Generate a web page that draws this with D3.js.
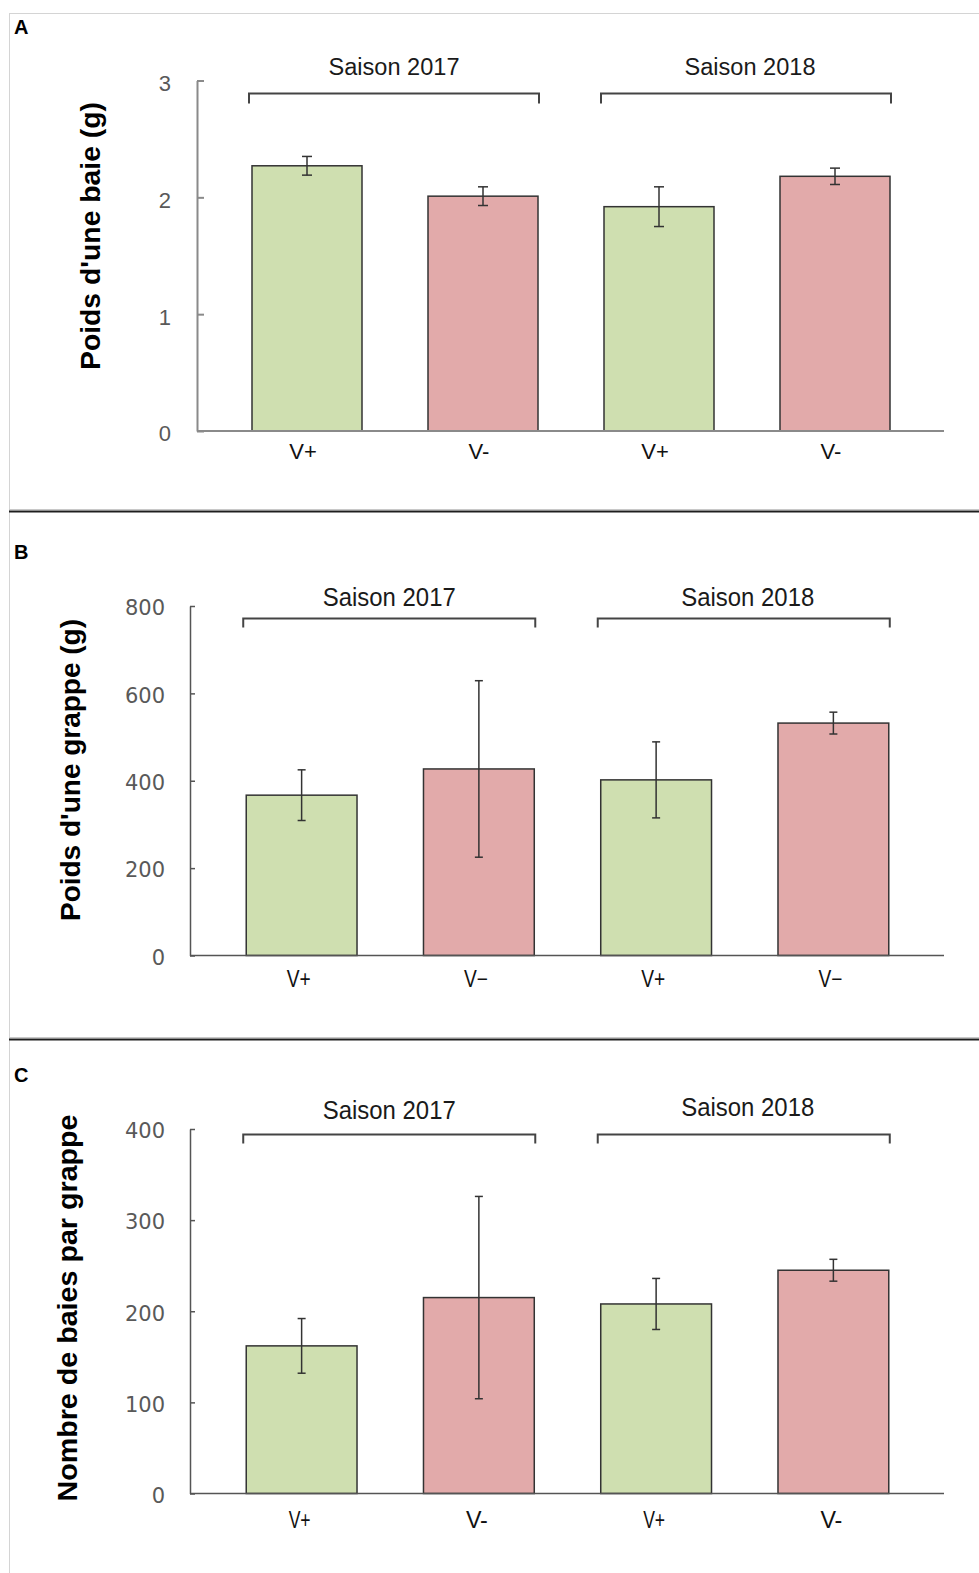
<!DOCTYPE html>
<html><head><meta charset="utf-8">
<script src="https://cdn.jsdelivr.net/npm/d3@7"></script>
<style>body{margin:0;background:#fff}</style>
</head><body>
<svg id="c" width="979" height="1573" xmlns="http://www.w3.org/2000/svg"></svg>
<script>
// ---------- DATA ----------
const categoriesA = ["V+", "V-", "V+", "V-"];
const categoriesB = ["V+", "V\u2212", "V+", "V\u2212"];
const categoriesC = ["V+", "V-", "V+", "V-"];
const treatments = ["plus", "minus", "plus", "minus"];
const seasons = ["Saison 2017", "Saison 2018"];
const seasonGroups = [[0, 1], [2, 3]];
const berryWeight = [2.27, 2.01, 1.92, 2.18];
const berryWeightErr = [0.08, 0.08, 0.17, 0.07];
const clusterWeight = [367, 427, 402, 532];
const clusterWeightErr = [58, 202, 87, 25];
const berriesPerCluster = [162, 215, 208, 245];
const berriesPerClusterErr = [30, 111, 28, 12];
const ticksA = [0, 1, 2, 3];
const ticksB = [0, 200, 400, 600, 800];
const ticksC = [0, 100, 200, 300, 400];
const titles = ["Poids d'une baie (g)", "Poids d'une grappe (g)", "Nombre de baies par grappe"];
const letters = ["A", "B", "C"];

// ---------- STYLE / LAYOUT ----------
const colors = {plus: "#cfdfb0", minus: "#e2aaaa"};
const svg = d3.select("#c");

// frames
svg.append("line").attr("x1", 9).attr("x2", 979).attr("y1", 13.5).attr("y2", 13.5).attr("stroke", "#d4d4d4").attr("stroke-width", 1);
svg.append("line").attr("x1", 9.5).attr("x2", 9.5).attr("y1", 13).attr("y2", 1573).attr("stroke", "#d4d4d4").attr("stroke-width", 1);
[511.5, 1039.5].forEach(yy => {
  svg.append("line").attr("x1", 9).attr("x2", 979).attr("y1", yy - 2).attr("y2", yy - 2).attr("stroke", "#c8c8c8").attr("stroke-width", 1);
  svg.append("line").attr("x1", 9).attr("x2", 979).attr("y1", yy).attr("y2", yy).attr("stroke", "#1e1e1e").attr("stroke-width", 2);
});

const panels = [
  {letter: letters[0], letterY: 34, cats: categoriesA, values: berryWeight, errs: berryWeightErr, ticks: ticksA, max: 3,
   y0: 431, yTop: 80.5, axisX: 197, axisEnd: 944, xRange: [219, 923], tickLen: 7, tickPad: 26,
   tickFont: "'Liberation Sans', Arial, sans-serif", tickSize: 22, tickDy: "0.45em",
   axisColor: "#8a8a8a", axisW: 2,
   title: titles[0], titleX: 100, titleCY: 236, titleLen: 268,
   bracketY: 93.5, bracketDrop: 10, seasonY: 75, seasonSize: 23, seasonLen: 131,
   xlabY: 459, xlabSize: 22, xlabLen: null, xlabShift: -4, capW: 10},
  {letter: letters[1], letterY: 559, cats: categoriesB, values: clusterWeight, errs: clusterWeightErr, ticks: ticksB, max: 800,
   y0: 955.5, yTop: 606, axisX: 190, axisEnd: 944, xRange: [213, 922], tickLen: 5, tickPad: 25,
   tickFont: "'DejaVu Sans', Verdana, sans-serif", tickSize: 21, tickDy: "0.42em",
   axisColor: "#555555", axisW: 1.5,
   title: titles[1], titleX: 80, titleCY: 770, titleLen: 302,
   bracketY: 618.5, bracketDrop: 9, seasonY: 606, seasonSize: 25, seasonLen: 133,
   xlabY: 987, xlabSize: 23, xlabLen: 24, xlabShift: -3, capW: 8},
  {letter: letters[2], letterY: 1082, cats: categoriesC, values: berriesPerCluster, errs: berriesPerClusterErr, ticks: ticksC, max: 400,
   y0: 1493.5, yTop: 1129, axisX: 190, axisEnd: 944, xRange: [213, 922], tickLen: 5, tickPad: 25,
   tickFont: "'DejaVu Sans', Verdana, sans-serif", tickSize: 21, tickDy: "0.42em",
   axisColor: "#555555", axisW: 1.5,
   title: titles[2], titleX: 77, titleCY: 1308, titleLen: 387,
   bracketY: 1134.5, bracketDrop: 9, seasonY: [1119, 1116], seasonSize: 25, seasonLen: 133,
   xlabY: 1528, xlabSize: 23, xlabLen: 22, xlabShift: -2, capW: 8}
];

panels.forEach(p => {
  const g = svg.append("g");
  const y = d3.scaleLinear().domain([0, p.max]).range([p.y0, p.yTop]);
  const x = d3.scaleBand().domain(d3.range(p.values.length)).range(p.xRange).paddingInner(0.375).paddingOuter(0.1875);
  const bw = x.bandwidth();

  // panel letter
  g.append("text").attr("x", 14).attr("y", p.letterY).text(p.letter)
    .attr("font-family", "'Liberation Sans', Arial, sans-serif").attr("font-weight", "bold").attr("font-size", 20).attr("fill", "#000");

  // y title
  g.append("text")
    .attr("transform", `translate(${p.titleX},${p.titleCY}) rotate(-90)`)
    .attr("text-anchor", "middle")
    .attr("font-family", "'Liberation Sans', Arial, sans-serif").attr("font-weight", "bold").attr("font-size", 28)
    .attr("textLength", p.titleLen).attr("lengthAdjust", "spacingAndGlyphs")
    .attr("fill", "#000").text(p.title);

  // bars
  g.selectAll("rect.bar").data(p.values).join("rect")
    .attr("x", (d, i) => x(i)).attr("y", d => y(d))
    .attr("width", bw).attr("height", d => y(0) - y(d))
    .attr("fill", (d, i) => colors[treatments[i]])
    .attr("stroke", "#333").attr("stroke-width", 1.5);

  // error bars
  const eb = g.selectAll("g.err").data(p.values).join("g");
  eb.append("line")
    .attr("x1", (d, i) => x(i) + bw / 2).attr("x2", (d, i) => x(i) + bw / 2)
    .attr("y1", (d, i) => y(d + p.errs[i])).attr("y2", (d, i) => y(d - p.errs[i]));
  eb.append("line")
    .attr("x1", (d, i) => x(i) + bw / 2 - p.capW / 2).attr("x2", (d, i) => x(i) + bw / 2 + p.capW / 2)
    .attr("y1", (d, i) => y(d + p.errs[i])).attr("y2", (d, i) => y(d + p.errs[i]));
  eb.append("line")
    .attr("x1", (d, i) => x(i) + bw / 2 - p.capW / 2).attr("x2", (d, i) => x(i) + bw / 2 + p.capW / 2)
    .attr("y1", (d, i) => y(d - p.errs[i])).attr("y2", (d, i) => y(d - p.errs[i]));
  eb.selectAll("line").attr("stroke", "#333").attr("stroke-width", 1.5);

  // x axis line
  g.append("line").attr("x1", p.axisX).attr("x2", p.axisEnd).attr("y1", y(0)).attr("y2", y(0))
    .attr("stroke", p.axisColor).attr("stroke-width", p.axisW);

  // y axis
  const ax = d3.axisLeft(y).tickValues(p.ticks).tickSizeInner(-p.tickLen).tickSizeOuter(0).tickPadding(p.tickPad).tickFormat(d3.format("d"));
  const ag = g.append("g").attr("transform", `translate(${p.axisX},0)`).call(ax);
  ag.select(".domain").attr("stroke", p.axisColor).attr("stroke-width", p.axisW);
  ag.selectAll(".tick line").attr("stroke", p.axisColor).attr("stroke-width", p.axisW);
  ag.selectAll(".tick text").attr("font-family", p.tickFont).attr("font-size", p.tickSize)
    .attr("fill", "#595959").attr("dy", p.tickDy);

  // x labels
  const xl = g.selectAll("text.xl").data(p.cats).join("text")
    .attr("x", (d, i) => x(i) + bw / 2 + p.xlabShift).attr("y", p.xlabY)
    .attr("text-anchor", "middle")
    .attr("font-family", "'Liberation Sans', Arial, sans-serif").attr("font-size", p.xlabSize)
    .attr("fill", "#111").text(d => d);
  if (p.xlabLen) xl.attr("textLength", p.xlabLen).attr("lengthAdjust", "spacingAndGlyphs");

  // season brackets
  seasonGroups.forEach((grp, k) => {
    const x1 = x(grp[0]) - 3, x2 = x(grp[grp.length - 1]) + bw + 1;
    g.append("path")
      .attr("d", `M${x1},${p.bracketY + p.bracketDrop}V${p.bracketY}H${x2}V${p.bracketY + p.bracketDrop}`)
      .attr("fill", "none").attr("stroke", "#444").attr("stroke-width", 2);
    const sy = Array.isArray(p.seasonY) ? p.seasonY[k] : p.seasonY;
    g.append("text").attr("x", (x1 + x2) / 2 + (k === 1 ? 4 : 0)).attr("y", sy)
      .attr("text-anchor", "middle")
      .attr("font-family", "'Liberation Sans', Arial, sans-serif").attr("font-size", p.seasonSize)
      .attr("textLength", p.seasonLen).attr("lengthAdjust", "spacingAndGlyphs")
      .attr("fill", "#1a1a1a").text(seasons[k]);
  });
});
</script>
</body></html>
